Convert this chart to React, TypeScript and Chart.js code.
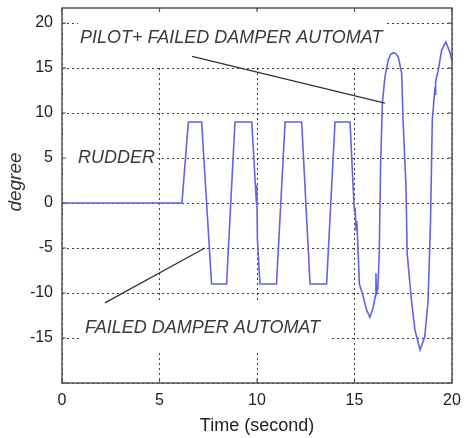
import React, { useEffect, useRef } from "react";
import { Chart, registerables } from "chart.js";

Chart.register(...registerables);

// ---- data ----
const timeSec = [
  0, 6.15, 6.48, 7.16, 7.67, 8.44, 8.87, 9.73, 9.97, 9.99, 10.02, 10.15,
  11.0, 11.44, 12.29, 12.72, 13.57, 14.0, 14.77, 14.97, 15.0, 15.03, 15.08,
  15.12, 15.25, 15.45, 15.62, 15.79, 15.96, 16.08, 16.1, 16.13, 16.2, 16.27,
  16.34, 16.43, 16.56, 16.73, 16.85, 17.0, 17.12, 17.25, 17.42, 17.49, 17.64,
  17.7, 17.93, 18.1, 18.36, 18.6, 18.77, 18.9, 18.99, 19.13, 19.15, 19.17,
  19.3, 19.47, 19.69, 19.9, 20.0,
];
const rudderDeg = [
  0, 0, 9, 9, -9, -9, 9, 9, 0, 2, -4, -9,
  -9, 9, 9, -9, -9, 9, 9, 0, -1, -0.5, -3,
  -2, -9, -10.4, -11.9, -12.7, -11.6, -10.2, -7.8, -10, -9.5, -5.6,
  4.4, 11.1, 14, 15.9, 16.5, 16.7, 16.6, 16.2, 14.4, 9.2, 1.8,
  -5.6, -11, -14.1, -16.3, -14.9, -11, -1.9, 9.2, 12.9, 12.0, 13.5,
  14.8, 17, 17.9, 16.7, 15.8,
];
const xTickValues = [0, 5, 10, 15, 20];
const yTickValues = [-20, -15, -10, -5, 0, 5, 10, 15, 20];
const xRange = [0, 20];
const yRange = [-20, 21.67];

// annotations: [text, t, value(baseline)]
const annotationTexts: [string, number, number][] = [
  ["PILOT+ FAILED DAMPER AUTOMAT", 0.92, 17.8],
  ["RUDDER", 0.82, 4.44],
  ["FAILED DAMPER AUTOMAT", 1.18, -14.44],
];
// white label backgrounds: [t1, t2, v1, v2]
const labelBoxes: [number, number, number, number][] = [
  [0.82, 16.56, 21.4, 15.2],
  [0.05, 4.9, 7.0, 4.1],
  [0.92, 13.74, -11.1, -16.6],
];
// pointer lines: [t1, v1, t2, v2]
const pointerLines: [number, number, number, number][] = [
  [6.67, 16.3, 16.56, 11.1],
  [2.2, -11.1, 7.33, -5.0],
];

const FONT = "'Liberation Sans', Arial, sans-serif";

const overlayPlugin = {
  id: "overlay",
  beforeDatasetsDraw(chart: any) {
    const { ctx, scales } = chart;
    const x = scales.x;
    const y = scales.y;
    ctx.save();
    ctx.fillStyle = "#ffffff";
    for (const [t1, t2, v1, v2] of labelBoxes) {
      const px1 = x.getPixelForValue(t1);
      const px2 = x.getPixelForValue(t2);
      const py1 = y.getPixelForValue(v1);
      const py2 = y.getPixelForValue(v2);
      ctx.fillRect(px1, py1, px2 - px1, py2 - py1);
    }
    ctx.fillStyle = "#3a3a3a";
    ctx.font = `italic 18px ${FONT}`;
    ctx.textBaseline = "alphabetic";
    ctx.textAlign = "left";
    for (const [txt, t, v] of annotationTexts) {
      ctx.fillText(txt, x.getPixelForValue(t), y.getPixelForValue(v));
    }
    ctx.restore();
  },
  afterDatasetsDraw(chart: any) {
    const { ctx, scales, chartArea: a } = chart;
    const x = scales.x;
    const y = scales.y;
    ctx.save();
    // pointer lines
    ctx.strokeStyle = "#333333";
    ctx.lineWidth = 1.3;
    for (const [t1, v1, t2, v2] of pointerLines) {
      ctx.beginPath();
      ctx.moveTo(x.getPixelForValue(t1), y.getPixelForValue(v1));
      ctx.lineTo(x.getPixelForValue(t2), y.getPixelForValue(v2));
      ctx.stroke();
    }
    // frame
    ctx.strokeStyle = "#555555";
    ctx.lineWidth = 1.5;
    ctx.strokeRect(a.left, a.top, a.right - a.left, a.bottom - a.top);
    // inner ticks
    ctx.lineWidth = 1.2;
    const tl = 4;
    for (const t of xTickValues) {
      const px = x.getPixelForValue(t);
      ctx.beginPath();
      ctx.moveTo(px, a.bottom);
      ctx.lineTo(px, a.bottom - tl);
      ctx.moveTo(px, a.top);
      ctx.lineTo(px, a.top + tl);
      ctx.stroke();
    }
    for (const v of yTickValues) {
      const py = y.getPixelForValue(v);
      ctx.beginPath();
      ctx.moveTo(a.left, py);
      ctx.lineTo(a.left + tl, py);
      ctx.moveTo(a.right, py);
      ctx.lineTo(a.right - tl, py);
      ctx.stroke();
    }
    // y title
    ctx.fillStyle = "#333333";
    ctx.font = `italic 19px ${FONT}`;
    ctx.textAlign = "center";
    ctx.textBaseline = "middle";
    ctx.translate(16, 182);
    ctx.rotate(-Math.PI / 2);
    ctx.fillText("degree", 0, 0);
    ctx.restore();
  },
};

export default function App() {
  const canvasRef = useRef<HTMLCanvasElement | null>(null);

  useEffect(() => {
    const canvas = canvasRef.current;
    if (!canvas) return;
    const chart = new Chart(canvas, {
      type: "line",
      data: {
        datasets: [
          {
            label: "rudder",
            data: timeSec.map((t, i) => ({ x: t, y: rudderDeg[i] })),
            borderColor: "rgb(98,98,228)",
            borderWidth: 1.6,
            pointRadius: 0,
            tension: 0,
            fill: false,
          },
        ],
      },
      options: {
        responsive: false,
        animation: false,
        events: [],
        layout: { padding: { top: 8, right: 12, left: 0, bottom: 0 } },
        plugins: {
          legend: { display: false },
          tooltip: { enabled: false },
        },
        scales: {
          x: {
            type: "linear",
            min: xRange[0],
            max: xRange[1],
            afterFit: (s: any) => {
              s.height = 55;
              s.paddingLeft = 0;
              s.paddingRight = 0;
            },
            afterBuildTicks: (s: any) => {
              s.ticks = xTickValues.map((v) => ({ value: v }));
            },
            ticks: {
              color: "#222222",
              font: { family: FONT, size: 16 },
              padding: 8,
              maxRotation: 0,
              autoSkip: false,
            },
            grid: {
              color: "rgba(30,30,30,0.85)",
              lineWidth: 1,
              drawTicks: false,
            },
            border: { display: false, dash: [2, 3] },
            title: {
              display: true,
              text: "Time (second)",
              color: "#222222",
              font: { family: FONT, size: 18 },
              padding: { top: 0, bottom: 1 },
            },
          },
          y: {
            type: "linear",
            min: yRange[0],
            max: yRange[1],
            afterFit: (s: any) => {
              s.width = 62;
              s.paddingTop = 0;
              s.paddingBottom = 0;
            },
            afterBuildTicks: (s: any) => {
              s.ticks = yTickValues.map((v) => ({ value: v }));
            },
            ticks: {
              color: "#222222",
              font: { family: FONT, size: 16 },
              padding: 9,
              autoSkip: false,
              callback: (v: any) => (Number(v) === -20 ? "" : String(v)),
            },
            grid: {
              color: "rgba(30,30,30,0.85)",
              lineWidth: 1,
              drawTicks: false,
            },
            border: { display: false, dash: [2, 3] },
          },
        },
      },
      plugins: [overlayPlugin],
    });
    return () => chart.destroy();
  }, []);

  return (
    <div style={{ position: "fixed", left: 0, top: 0, width: 464, height: 438, background: "#fff" }}>
      <canvas ref={canvasRef} width={464} height={438} />
    </div>
  );
}
